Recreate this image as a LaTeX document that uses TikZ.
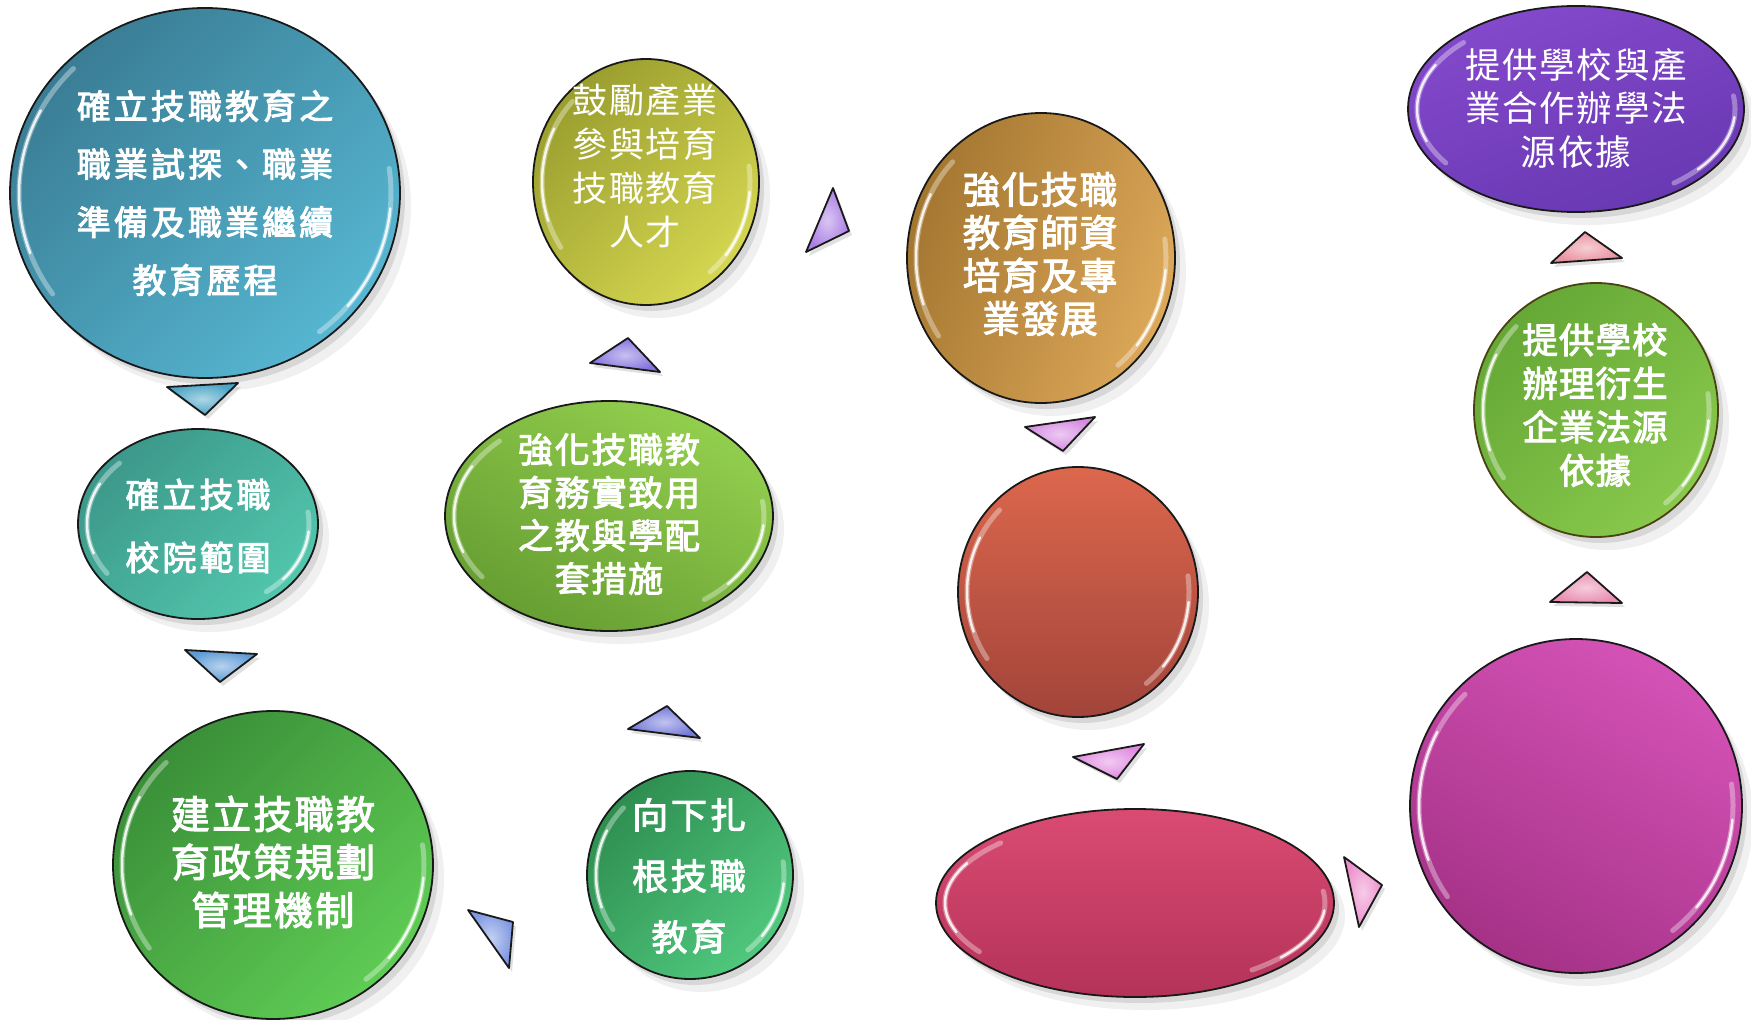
\documentclass[tikz,border=0pt]{standalone}
\usepackage{fontspec}
\newfontfamily\cjk{Noto Sans CJK TC}
\newfontfamily\cjkb{Noto Sans CJK TC}[FakeBold=2.8]
\usetikzlibrary{shapes.geometric,shadows}

\definecolor{aA}{HTML}{3A7D95}\definecolor{aB}{HTML}{56B6D1}
\definecolor{bA}{HTML}{3C988A}\definecolor{bB}{HTML}{52C6AD}
\definecolor{cA}{HTML}{3A8F38}\definecolor{cB}{HTML}{5FCC54}
\definecolor{dA}{HTML}{2E8E50}\definecolor{dB}{HTML}{50C87E}
\definecolor{eA}{HTML}{93CF4E}\definecolor{eB}{HTML}{669E32}
\definecolor{fA}{HTML}{9A9E2E}\definecolor{fB}{HTML}{D5D650}
\definecolor{gA}{HTML}{A37630}\definecolor{gB}{HTML}{DDA859}
\definecolor{hA}{HTML}{DC674D}\definecolor{hB}{HTML}{A2443A}
\definecolor{iA}{HTML}{DA4B72}\definecolor{iB}{HTML}{B43258}
\definecolor{jA}{HTML}{D452B6}\definecolor{jB}{HTML}{A53287}
\definecolor{kA}{HTML}{66A836}\definecolor{kB}{HTML}{88C84C}
\definecolor{lA}{HTML}{8449CC}\definecolor{lB}{HTML}{6838B2}
\definecolor{kBorder}{HTML}{4A4212}

\definecolor{ta}{HTML}{4AA5C6}
\definecolor{tb}{HTML}{5E9BD6}
\definecolor{tc}{HTML}{7F98E2}
\definecolor{td}{HTML}{7479DA}
\definecolor{te}{HTML}{8573DE}
\definecolor{tf}{HTML}{AB80E4}
\definecolor{tg}{HTML}{D58AE2}
\definecolor{th}{HTML}{E08AE0}
\definecolor{ti}{HTML}{EC8FCC}
\definecolor{tj}{HTML}{EA8FB2}
\definecolor{tk}{HTML}{EA929F}

\tikzset{
  bubble/.style={ellipse, draw=black!90, line width=1.8pt, inner sep=0pt,
    drop shadow={shadow xshift=5pt, shadow yshift=-6pt, opacity=0.10, fill=black},
    drop shadow={shadow xshift=11pt, shadow yshift=-13pt, opacity=0.06, fill=black}},
  glossw/.style={white, line width=5pt, opacity=0.35, line cap=round},
  glossc/.style={white, line width=2.5pt, opacity=0.85, line cap=round},
  lbl/.style={text=white, align=center, inner sep=0pt},
  tri/.style={draw=black!90, line width=1.8pt, line join=round,
    drop shadow={shadow xshift=3pt, shadow yshift=-4pt, opacity=0.12, fill=black}},
}

\newcommand\glossarc[3]{%
  \begin{scope}[shift={(#1.center)}]
    \draw[glossw] ({(#2-9)*cos(145)},{(#3-9)*sin(145)}) arc[start angle=145,end angle=225,x radius=#2-9,y radius=#3-9];
    \draw[glossc] ({(#2-9)*cos(160)},{(#3-9)*sin(160)}) arc[start angle=160,end angle=208,x radius=#2-9,y radius=#3-9];
    \draw[glossw] ({(#2-9)*cos(-8)},{(#3-9)*sin(-8)}) arc[start angle=-8,end angle=52,x radius=#2-9,y radius=#3-9];
    \draw[glossc] ({(#2-9)*cos(5)},{(#3-9)*sin(5)}) arc[start angle=5,end angle=40,x radius=#2-9,y radius=#3-9];
  \end{scope}}

\newcommand\bub[6]{%
  \node[bubble, minimum width=2*#4, minimum height=2*#5, #6] (#1) at (#2,#3) {};
  \glossarc{#1}{#4}{#5}}

\newcommand\arrowtri[4]{%
  \shadedraw[tri, inner color=#4!45!white, outer color=#4] #1 -- #2 -- #3 -- cycle;}

\begin{document}
\begin{tikzpicture}[x=1pt,y=-1pt]
\useasboundingbox (0,0) rectangle (1751,1020);
\fill[white] (0,0) rectangle (1751,1020);

% bubbles
\bub{n1}{205}{193}{195}{185}{top color=aA, bottom color=aB, shading angle=45}
\bub{n2}{198}{524}{120}{95}{top color=bA, bottom color=bB, shading angle=45}
\bub{n3}{273}{865}{160}{154}{top color=cA, bottom color=cB, shading angle=45}
\bub{n4}{690}{875}{103}{104}{top color=dA, bottom color=dB, shading angle=45}
\bub{n5}{609}{516}{164}{115}{top color=eA, bottom color=eB, shading angle=-30}
\bub{n6}{646}{182}{113}{123}{top color=fA, bottom color=fB, shading angle=45}
\bub{n7}{1041}{258}{134}{145}{top color=gA, bottom color=gB, shading angle=70}
\bub{n8}{1078}{592}{120}{125}{top color=hA, bottom color=hB}
\bub{n9}{1135}{903}{199}{94}{top color=iA, bottom color=iB}
\bub{n10}{1576}{806}{166}{167}{top color=jA, bottom color=jB, shading angle=-30}
\bub{n11}{1596}{410}{122}{127}{top color=kA, bottom color=kB, shading angle=45, draw=kBorder}
\bub{n12}{1576}{109}{168}{103}{top color=lA, bottom color=lB, shading angle=20}

% labels
\node[lbl, font=\cjkb\addfontfeature{LetterSpace=9}\fontsize{34}{58}\selectfont] (t1) at (205,193)
  {確立技職教育之\\職業試探、職業\\準備及職業繼續\\教育歷程};
\node[lbl, font=\cjkb\addfontfeature{LetterSpace=9}\fontsize{34}{63}\selectfont] (t2) at (198,526)
  {確立技職\\校院範圍};
\node[lbl, font=\cjkb\addfontfeature{LetterSpace=6}\fontsize{39}{48}\selectfont] (t3) at (273,862)
  {建立技職教\\育政策規劃\\管理機制};
\node[lbl, font=\cjkb\addfontfeature{LetterSpace=8}\fontsize{36}{61}\selectfont] (t4) at (689,876)
  {向下扎\\根技職\\教育};
\node[lbl, font=\cjkb\addfontfeature{LetterSpace=5}\fontsize{35}{43}\selectfont] (t5) at (609,514)
  {強化技職教\\育務實致用\\之教與學配\\套措施};
\node[lbl, font=\cjk\addfontfeature{LetterSpace=4}\fontsize{35}{44}\selectfont] (t6) at (645,166)
  {鼓勵產業\\參與培育\\技職教育\\人才};
\node[lbl, font=\cjkb\addfontfeature{LetterSpace=4}\fontsize{37.5}{43}\selectfont] (t7) at (1040,254)
  {強化技職\\教育師資\\培育及專\\業發展};
\node[lbl, font=\cjkb\addfontfeature{LetterSpace=3}\fontsize{35.5}{43.5}\selectfont] (t11) at (1595,405)
  {提供學校\\辦理衍生\\企業法源\\依據};
\node[lbl, font=\cjk\addfontfeature{LetterSpace=5}\fontsize{35.5}{43.5}\selectfont] (t12) at (1576,108)
  {提供學校與產\\業合作辦學法\\源依據};

% arrow triangles
\arrowtri{(167,387)}{(238,383)}{(205,415)}{ta}
\arrowtri{(185,650)}{(257,654)}{(220,682)}{tb}
\arrowtri{(468,910)}{(513,922)}{(509,968)}{tc}
\arrowtri{(628,729)}{(667,706)}{(700,738)}{td}
\arrowtri{(590,363)}{(628,338)}{(660,372)}{te}
\arrowtri{(833,188)}{(849,231)}{(806,252)}{tf}
\arrowtri{(1025,427)}{(1095,417)}{(1063,451)}{tg}
\arrowtri{(1073,757)}{(1144,744)}{(1117,779)}{th}
\arrowtri{(1344,857)}{(1382,885)}{(1359,927)}{ti}
\arrowtri{(1550,602)}{(1587,572)}{(1622,603)}{tj}
\arrowtri{(1551,263)}{(1585,232)}{(1622,258)}{tk}
\end{tikzpicture}
\end{document}
